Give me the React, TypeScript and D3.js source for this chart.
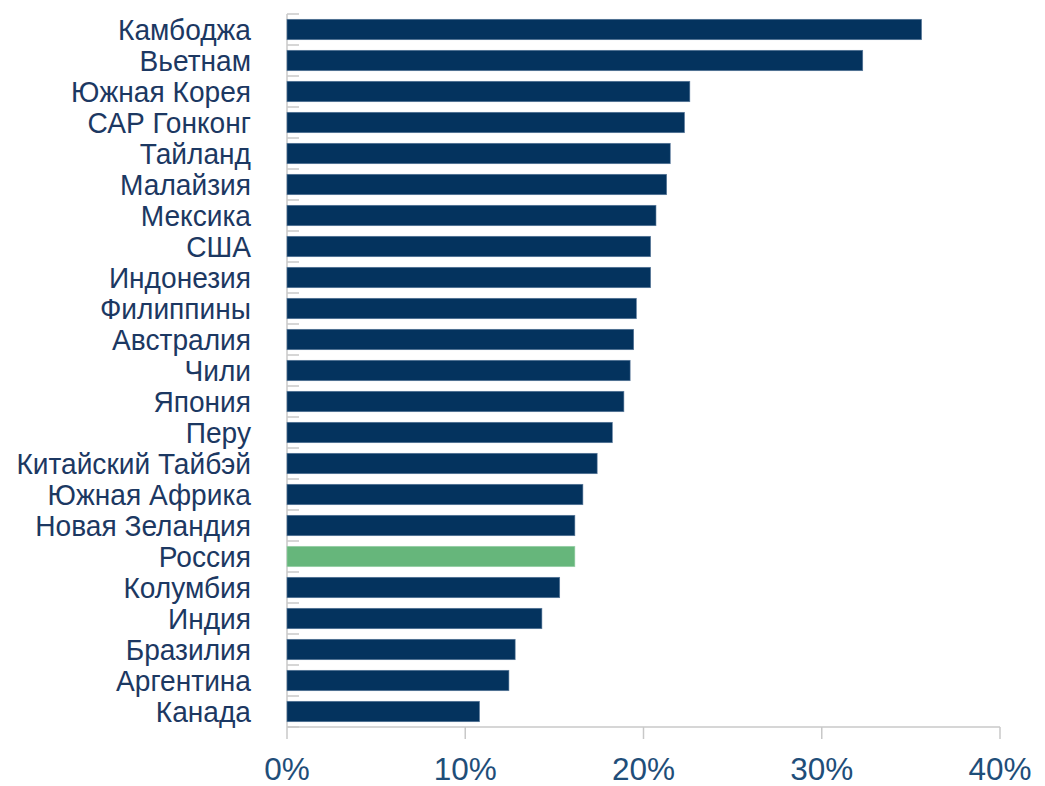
import React from "react";
import * as d3 from "d3";

const categories = [
  "Камбоджа", "Вьетнам", "Южная Корея", "САР Гонконг", "Тайланд", "Малайзия",
  "Мексика", "США", "Индонезия", "Филиппины", "Австралия", "Чили", "Япония",
  "Перу", "Китайский Тайбэй", "Южная Африка", "Новая Зеландия", "Россия",
  "Колумбия", "Индия", "Бразилия", "Аргентина", "Канада",
];
const values = [
  35.6, 32.3, 22.6, 22.3, 21.5, 21.3, 20.7, 20.4, 20.4, 19.6, 19.45, 19.25, 18.9,
  18.25, 17.4, 16.6, 16.15, 16.15, 15.3, 14.3, 12.8, 12.45, 10.8,
];
const highlight = ["Россия"];
const xTicks = [0, 10, 20, 30, 40];

const W = 1045;
const H = 786;
const left = 287;
const right = 1000;
const top = 14;
const bottom = 727;
const labelX = 251;

export default function App() {
  const x = d3.scaleLinear().domain([0, 40]).range([left, right]);
  const y = d3.scaleBand<string>().domain(categories).range([top, bottom]).paddingInner(0.34).paddingOuter(0.17);
  const step = y.step();
  const boundaries = d3.range(categories.length + 1).map((i) => top + i * step);
  const fmt = (v: number) => `${v}%`;
  return (
    <svg width={W} height={H} style={{ position: "absolute", left: 0, top: 0, background: "#fff" }}
      fontFamily="'Liberation Sans', Arial, sans-serif">
      {/* y axis */}
      <line x1={left} x2={left} y1={top} y2={bottom} stroke="#c8c8c8" strokeWidth={1.5} />
      {boundaries.map((b, i) => (
        <line key={"yt" + i} x1={left} x2={left + 12} y1={b} y2={b} stroke="#c8c8c8" strokeWidth={1.5} />
      ))}
      {/* x axis */}
      <line x1={left} x2={right} y1={bottom} y2={bottom} stroke="#c8c8c8" strokeWidth={1.5} />
      {xTicks.map((t) => (
        <g key={"xt" + t}>
          <line x1={x(t)} x2={x(t)} y1={bottom} y2={bottom + 12} stroke="#c8c8c8" strokeWidth={1.5} />
          <text x={x(t)} y={779.5} textAnchor="middle" fontSize={31.5} fill="#1f4e79">{fmt(t)}</text>
        </g>
      ))}
      {categories.map((c, i) => (
        <g key={c}>
          <rect x={x(0)} y={y(c)} width={x(values[i]) - x(0)} height={y.bandwidth()}
            fill={highlight.includes(c) ? "#66b67b" : "#04335e"}
            stroke={highlight.includes(c) ? "#9fd2ac" : "#5a7a9c"} strokeWidth={0.6} />
          <g transform={`translate(${labelX},${(y(c) as number) + y.bandwidth() / 2}) scale(0.97,1)`}>
            <text x={0} y={0} dy="0.36em" textAnchor="end" fontSize={29} fill="#1c3862">{c}</text>
          </g>
        </g>
      ))}
    </svg>
  );
}
